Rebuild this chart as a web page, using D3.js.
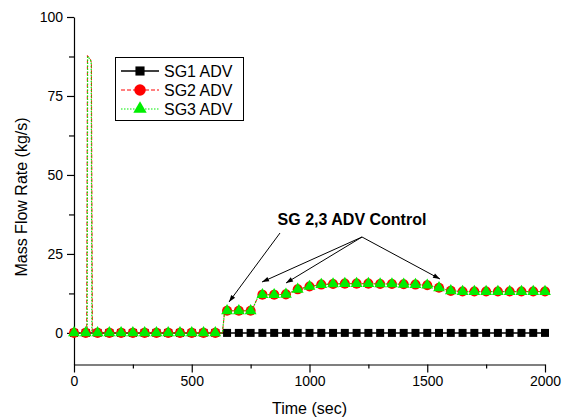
<!DOCTYPE html>
<html>
<head>
<meta charset="utf-8">
<script src="https://cdn.jsdelivr.net/npm/d3@7"></script>
<style>
  html, body { margin: 0; padding: 0; background: #fff; }
  svg { display: block; font-family: "Liberation Sans", Arial, sans-serif; }
</style>
</head>
<body>
<svg id="chart" width="571" height="420"></svg>
<script>
// ---- data ----
const seriesNames = ["SG1 ADV", "SG2 ADV", "SG3 ADV"];
const xTicks = [0, 500, 1000, 1500, 2000];
const yTicks = [0, 25, 50, 75, 100];

const sg1Time = [0,50,100,150,200,250,300,350,400,450,500,550,600,650,700,750,800,850,900,950,1000,1050,1100,1150,1200,1250,1300,1350,1400,1450,1500,1550,1600,1650,1700,1750,1800,1850,1900,1950,2000];
const sg1Flow = [0,0,0,0,0,0,0,0,0,0,0,0,0,0,0,0,0,0,0,0,0,0,0,0,0,0,0,0,0,0,0,0,0,0,0,0,0,0,0,0,0];

const sg2Time = [0,50,54,57,70,74,78,100,150,200,250,300,350,400,450,500,550,600,630,640,650,700,750,755,785,800,850,900,950,1000,1050,1100,1150,1200,1250,1300,1350,1400,1450,1500,1550,1600,1650,1700,1750,1800,1850,1900,1950,2000];
const sg2Flow = [0,0,0,87.8,86.5,85.5,0,0,0,0,0,0,0,0,0,0,0,0,0,7,7,7,7,7,12.1,12.1,12.1,12.2,13.8,14.7,15.3,15.5,15.6,15.6,15.6,15.5,15.5,15.4,15.3,15.1,14.3,13.3,13.1,13.1,13.1,13.1,13.1,13.1,13.1,13.1];

const sg3Time = [0,50,56,58,70,73,76,100,150,200,250,300,350,400,450,500,550,600,630,640,650,700,750,755,785,800,850,900,950,1000,1050,1100,1150,1200,1250,1300,1350,1400,1450,1500,1550,1600,1650,1700,1750,1800,1850,1900,1950,2000];
const sg3Flow = [0,0,0,87.5,86.5,85.5,0,0,0,0,0,0,0,0,0,0,0,0,0,7,7,7,7,7,12.1,12.1,12.1,12.2,13.8,14.7,15.3,15.5,15.6,15.6,15.6,15.5,15.5,15.4,15.3,15.1,14.3,13.3,13.1,13.1,13.1,13.1,13.1,13.1,13.1,13.1];

const annotationText = "SG 2,3 ADV Control";
const xTitle = "Time (sec)";
const yTitle = "Mass Flow Rate (kg/s)";

// ---- layout ----
const svg = d3.select("#chart");
const x = d3.scaleLinear().domain([0, 2000]).range([74, 545]);
const y = d3.scaleLinear().domain([-10, 100]).range([364.5, 17]);
const font = '"Liberation Sans", Arial, sans-serif';

// axes
svg.append("g").attr("transform", `translate(0,${y(-10)})`)
  .call(d3.axisBottom(x).tickValues(xTicks).tickSize(8).tickSizeOuter(0).tickPadding(4).tickFormat(d3.format("d")));
svg.append("g").attr("transform", `translate(0,${y(-10)})`)
  .call(d3.axisBottom(x).tickValues([250,750,1250,1750]).tickSize(4).tickSizeOuter(0).tickFormat(""))
  .select(".domain").remove();
svg.append("g").attr("transform", `translate(${x(0)},0)`)
  .call(d3.axisLeft(y).tickValues(yTicks).tickSize(7).tickSizeOuter(0).tickPadding(4));
svg.append("g").attr("transform", `translate(${x(0)},0)`)
  .call(d3.axisLeft(y).tickValues([12.5,37.5,62.5,87.5]).tickSize(5).tickSizeOuter(0).tickFormat(""))
  .select(".domain").remove();
svg.selectAll(".tick text").attr("font-size", 14).attr("font-family", font).attr("fill", "#000");
svg.selectAll(".domain, .tick line").attr("stroke", "#000").attr("stroke-width", 1.2);

// titles
svg.append("text").attr("x", (x(0)+x(2000))/2).attr("y", 414).attr("text-anchor", "middle")
  .attr("font-size", 16).attr("font-family", font).text(xTitle);
svg.append("text").attr("transform", `translate(27,197) rotate(-90)`)
  .attr("text-anchor", "middle").attr("font-size", 16).attr("font-family", font).text(yTitle);

// series
const series = [
  {name: seriesNames[0], t: sg1Time, v: sg1Flow, color: "#000", dash: null, width: 1.5, sym: d3.symbolSquare, size: 64},
  {name: seriesNames[1], t: sg2Time, v: sg2Flow, color: "#ff0000", dash: "4,2", width: 1, sym: d3.symbolCircle, size: 80},
  {name: seriesNames[2], t: sg3Time, v: sg3Flow, color: "#00ee00", dash: "1.5,1.5", width: 1.2, sym: d3.symbolTriangle, size: 60}
];
const line = d3.line().x(d => x(d[0])).y(d => y(d[1]));
series.forEach(s => {
  const pts = s.t.map((t, i) => [t, s.v[i]]);
  const g = svg.append("g");
  g.append("path").datum(pts).attr("d", line).attr("fill", "none")
    .attr("stroke", s.color).attr("stroke-width", s.width).attr("stroke-dasharray", s.dash);
  g.selectAll("path.m").data(pts.filter(p => p[0] % 50 === 0)).join("path").attr("class", "m")
    .attr("d", d3.symbol().type(s.sym).size(s.size))
    .attr("transform", p => `translate(${x(p[0])},${y(p[1])})`)
    .attr("fill", s.color);
});

// legend
const lg = svg.append("g");
lg.append("rect").attr("x", 115.5).attr("y", 57.5).attr("width", 128).attr("height", 63)
  .attr("fill", "#fff").attr("stroke", "#000").attr("stroke-width", 1);
series.forEach((s, i) => {
  const yy = 71 + i * 19;
  lg.append("line").attr("x1", 121).attr("x2", 159).attr("y1", yy).attr("y2", yy)
    .attr("stroke", s.color).attr("stroke-width", s.width).attr("stroke-dasharray", s.dash);
  lg.append("path").attr("d", d3.symbol().type(s.sym).size(s.size * 1.3)())
    .attr("transform", `translate(140,${yy})`).attr("fill", s.color);
  lg.append("text").attr("x", 164).attr("y", yy + 6).attr("font-size", 16)
    .attr("font-family", font).text(s.name);
});

// annotation
svg.append("defs").append("marker").attr("id", "arr").attr("viewBox", "0 0 10 10")
  .attr("refX", 10).attr("refY", 5).attr("markerWidth", 9).attr("markerHeight", 7)
  .attr("markerUnits", "userSpaceOnUse").attr("orient", "auto")
  .append("path").attr("d", "M0,1.5 L10,5 L0,8.5 Z").attr("fill", "#000");
svg.append("text").attr("x", 352).attr("y", 225).attr("text-anchor", "middle")
  .attr("font-size", 16).attr("font-weight", "bold").attr("font-family", font).text(annotationText);
const arrows = [
  [[280, 233], [229, 302]],
  [[362, 237], [262, 282]],
  [[362, 237], [286, 283]],
  [[362, 237], [440, 279]]
];
arrows.forEach(a => {
  svg.append("line").attr("x1", a[0][0]).attr("y1", a[0][1]).attr("x2", a[1][0]).attr("y2", a[1][1])
    .attr("stroke", "#000").attr("stroke-width", 1).attr("marker-end", "url(#arr)");
});
</script>
</body>
</html>
